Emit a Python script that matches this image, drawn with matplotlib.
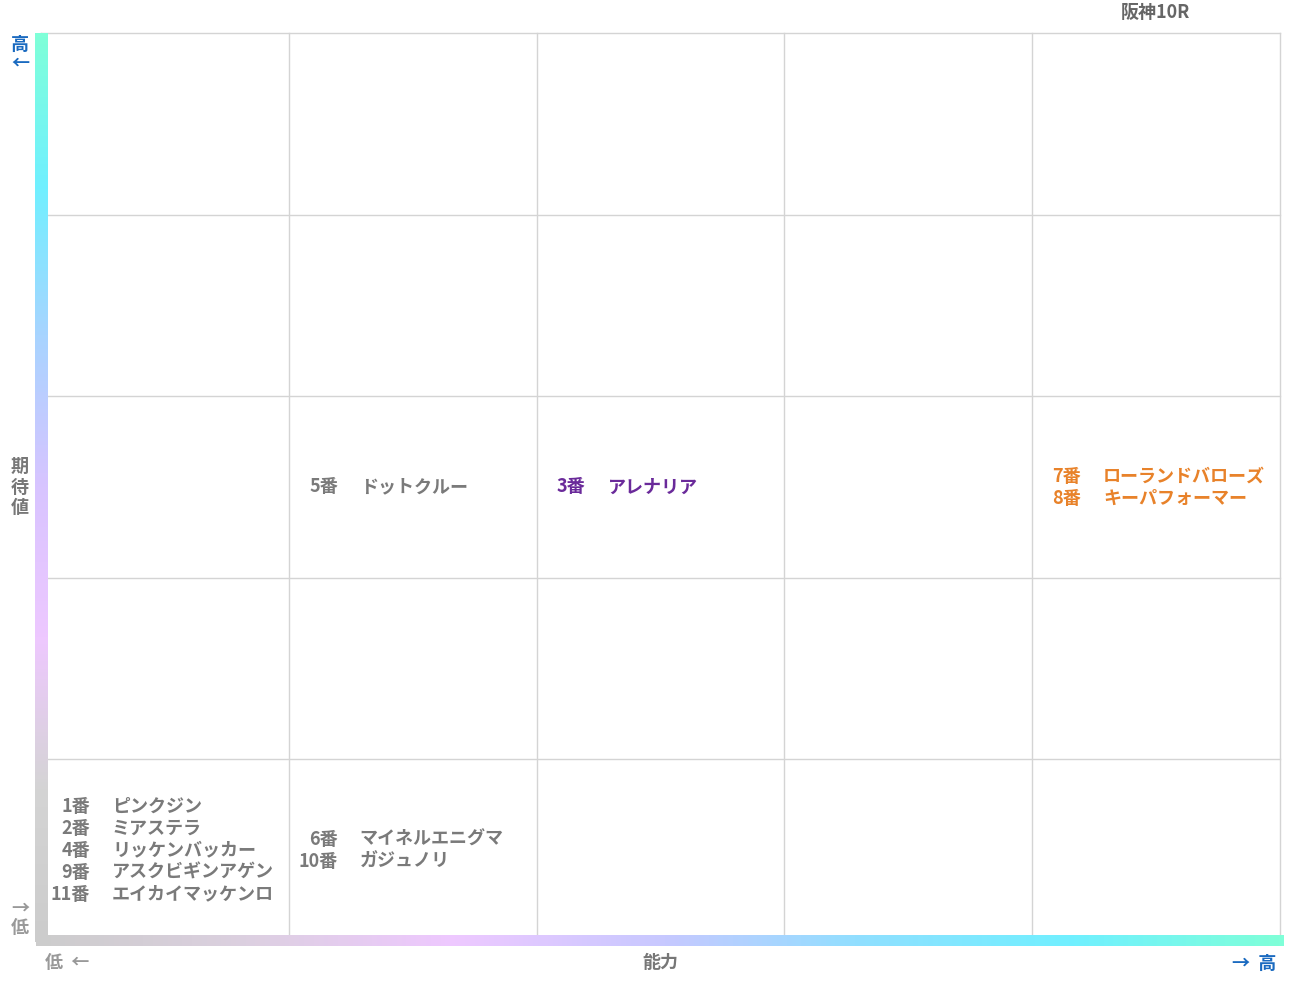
import numpy as np
import matplotlib.pyplot as plt
from matplotlib.colors import LinearSegmentedColormap

plt.rcParams['font.family'] = ['Noto Sans CJK JP', 'DejaVu Sans']

title = "阪神10R"
# (列, 行, 色, 番号, 馬名)  行0 = 下段
cells = [
    (0, 0, "#7a7a7a", ["1番", "2番", "4番", "9番", "11番"],
     ["ピンクジン", "ミアステラ", "リッケンバッカー", "アスクビギンアゲン", "エイカイマッケンロ"]),
    (1, 0, "#7a7a7a", ["6番", "10番"], ["マイネルエニグマ", "ガジュノリ"]),
    (1, 2, "#7a7a7a", ["5番"], ["ドットクルー"]),
    (2, 2, "#6a2a9a", ["3番"], ["アレナリア"]),
    (4, 2, "#e8822a", ["7番", "8番"], ["ローランドバローズ", "キーパフォーマー"]),
]

W, H = 1291, 983
fig = plt.figure(figsize=(W / 100, H / 100), dpi=100)
# 全体を画素座標で扱う背景軸
bg = fig.add_axes([0, 0, 1, 1])
bg.set_xlim(0, W)
bg.set_ylim(H, 0)
bg.axis("off")

x0, x1, y0, y1 = 41, 1280, 33, 941
cw, ch = (x1 - x0) / 5, (y1 - y0) / 5

# グリッド
for i in range(6):
    bg.plot([x0 + i * cw] * 2, [y0, y1], color="#d4d4d4", lw=1)
    bg.plot([x0, x1], [y0 + i * ch] * 2, color="#d4d4d4", lw=1)

# グラデーションの軸
vcm = LinearSegmentedColormap.from_list("v", ["#7fffd8", "#70f0ff", "#a8d4ff", "#d8c4ff", "#eec8ff", "#d4d4d4", "#cccccc"])
hcm = LinearSegmentedColormap.from_list("h", ["#cccccc", "#dcd0e0", "#eec8ff", "#c8c8ff", "#8ee0ff", "#70f0ff", "#7fffd8"])
g = np.linspace(0, 1, 256)
bg.imshow(g[:, None], cmap=vcm, extent=(35, 48, 942, 33), aspect="auto", zorder=3)
bg.imshow(g[None, :], cmap=hcm, extent=(36, 1284, 946, 935), aspect="auto", zorder=3)
bg.set_xlim(0, W)
bg.set_ylim(H, 0)

fs = 13
for col, row, color, nums, names in cells:
    cy = y1 - (row + 0.5) * ch
    n = len(nums)
    for k, (num, name) in enumerate(zip(nums, names)):
        yy = cy + (k - (n - 1) / 2) * 22
        bg.text(x0 + col * cw + 49, yy, num, ha="right", va="center",
                fontsize=fs, color=color, fontweight="bold")
        bg.text(x0 + col * cw + 71, yy, name, ha="left", va="center",
                fontsize=fs, color=color, fontweight="bold")

gray = "#777777"
blue = "#1a6ac0"
bg.text(1155, 12, title, ha="center", va="center", fontsize=13, color="#666666", fontweight="bold")
bg.text(660, 963, "能力", ha="center", va="center", fontsize=13, color=gray, fontweight="bold")
bg.text(45, 963, "低  ←", ha="left", va="center", fontsize=13, color="#999999", fontweight="bold")
bg.text(1276, 963, "→  高", ha="right", va="center", fontsize=13, color=blue, fontweight="bold")
bg.text(20, 487, "期\n待\n値", ha="center", va="center", fontsize=13, color=gray,
        fontweight="bold", linespacing=1.1)
bg.text(20, 54, "高\n←", ha="center", va="center", fontsize=13, color=blue,
        fontweight="bold", linespacing=1.0)
bg.text(20, 918, "→\n低", ha="center", va="center", fontsize=13, color="#999999",
        fontweight="bold", linespacing=1.0)

fig.savefig("out.png", dpi=100)
